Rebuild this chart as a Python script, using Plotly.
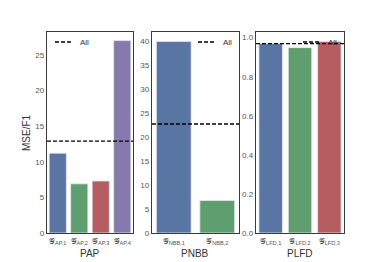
import plotly.graph_objects as go

pap_labels = ["𝒢<sub>AP,1</sub>", "𝒢<sub>AP,2</sub>", "𝒢<sub>AP,3</sub>", "𝒢<sub>AP,4</sub>"]
pap_values = [11.2, 6.9, 7.3, 27.0]
pap_all = 12.9

pnbb_labels = ["𝒢<sub>NBB,1</sub>", "𝒢<sub>NBB,2</sub>"]
pnbb_values = [40.0, 6.8]
pnbb_all = 22.75

plfd_labels = ["𝒢<sub>LFD,1</sub>", "𝒢<sub>LFD,2</sub>", "𝒢<sub>LFD,3</sub>"]
plfd_values = [0.970, 0.949, 0.981]
plfd_all = 0.969

panel_names = ["PAP", "PNBB", "PLFD"]
colors = ["#5875a4", "#5f9e6e", "#b55d60", "#857aab"]

W, H = 382, 262
T, B = 32, 29
PH = H - T - B
font = "Liberation Sans, Arial, sans-serif"


def px(x):
    return x / W


def py(y):
    return (H - B - y) / PH


fig = go.Figure()
domains = [(px(47), px(133)), (px(152), px(239)), (px(256), px(344))]
ranges = [(0, 28.2), (0, 41.96), (0, 1.029)]
panels = [(pap_labels, pap_values, pap_all), (pnbb_labels, pnbb_values, pnbb_all),
          (plfd_labels, plfd_values, plfd_all)]
legend_x = [55, 198, 303]  # left pixel of legend line in each panel

annotations = []
shapes = []
for i, (labels, vals, allv) in enumerate(panels):
    k = "" if i == 0 else str(i + 1)
    n = len(labels)
    fig.add_trace(go.Bar(x=list(range(n)), y=vals,
                         marker=dict(color=colors[:n], line=dict(color="#e8e8f0", width=0.8)),
                         width=0.8, showlegend=False, xaxis="x" + k, yaxis="y" + k))
    fig.add_trace(go.Scatter(x=[-0.5, n - 0.5], y=[allv, allv], mode="lines", name="All",
                             line=dict(color="black", dash="4px,2px", width=1.3),
                             xaxis="x" + k, yaxis="y" + k, showlegend=False))
    fig.layout["xaxis" + k] = dict(domain=domains[i], range=[-0.5, n - 0.5], tickvals=list(range(n)),
                                   ticktext=labels, showline=True, linecolor="#3a3a3a", linewidth=1.2,
                                   mirror=True, showgrid=False, zeroline=False, ticks="",
                                   tickfont=dict(size=8, color="#555", family=font),
                                   anchor="y" + k, fixedrange=True, automargin=False)
    fig.layout["yaxis" + k] = dict(domain=[0, 1], range=list(ranges[i]), showline=True, linecolor="#3a3a3a",
                                   linewidth=1.2, mirror=True, showgrid=False, zeroline=False, ticks="",
                                   tickfont=dict(size=8, color="#555", family=font), anchor="x" + k,
                                   fixedrange=True, automargin=False,
                                   dtick=[5, 5, 0.2][i], tickformat=[None, None, ".1f"][i])
    # panel title below the x axis
    annotations.append(dict(text=panel_names[i], xref="paper", yref="paper",
                            x=(domains[i][0] + domains[i][1]) / 2, y=py(253),
                            xanchor="center", yanchor="middle", showarrow=False,
                            font=dict(size=10, color="#333", family=font)))
    # legend entry "All"
    lx = legend_x[i]
    shapes.append(dict(type="line", xref="paper", yref="paper", x0=px(lx), x1=px(lx + 17),
                       y0=py(42), y1=py(42), line=dict(color="black", dash="4px,2px", width=1.3)))
    annotations.append(dict(text="All", xref="paper", yref="paper", x=px(lx + 23), y=py(42),
                            xanchor="left", yanchor="middle", showarrow=False,
                            font=dict(size=8, color="#333", family=font)))

annotations.append(dict(text="MSE/F1", xref="paper", yref="paper", x=px(26), y=py(133),
                        textangle=-90, xanchor="center", yanchor="middle", showarrow=False,
                        font=dict(size=10, color="#333", family=font)))

fig.update_layout(width=W, height=H, margin=dict(l=0, r=0, t=T, b=B),
                  plot_bgcolor="white", paper_bgcolor="white", font=dict(family=font),
                  annotations=annotations, shapes=shapes, showlegend=False)
fig.write_html("out.html", post_script="document.body.style.margin='0';",
               config={"displayModeBar": False, "staticPlot": True})
